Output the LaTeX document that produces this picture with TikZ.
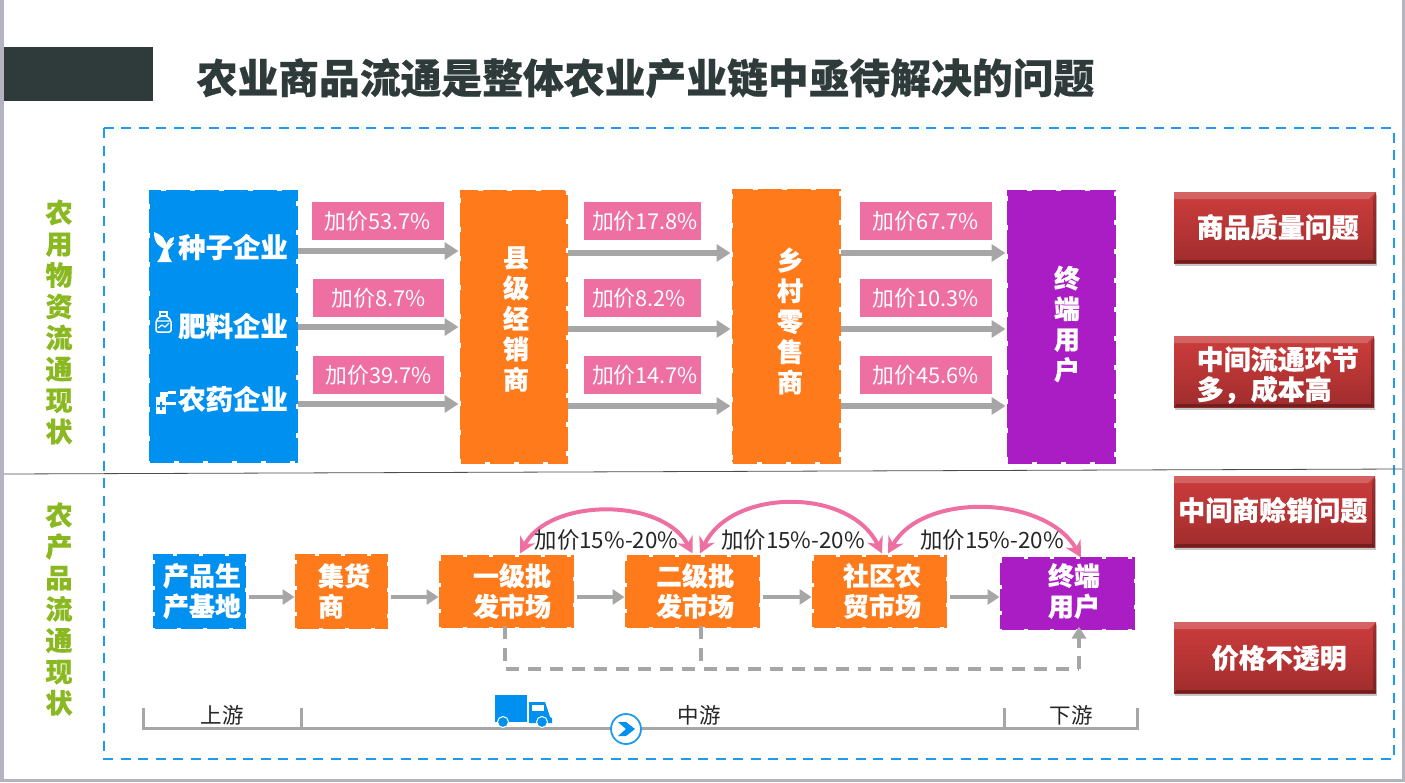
\documentclass[tikz,border=0pt]{standalone}
\usepackage{fontspec}
\setmainfont{Noto Sans CJK SC}
\usepackage{xcolor}
\usetikzlibrary{arrows.meta}
\usetikzlibrary{shadows}
\newcommand{\heavyface}{\bfseries\addfontfeature{FakeBold=.5}}
\definecolor{headdark}{HTML}{2F3B3A}
\definecolor{frameblue}{HTML}{1E9BF0}
\definecolor{boxblue}{HTML}{0090F0}
\definecolor{boxorange}{HTML}{FF7A1A}
\definecolor{boxpurple}{HTML}{AA1CC4}
\definecolor{tagpink}{HTML}{EE6FA2}
\definecolor{flowgray}{HTML}{A6A6A6}
\definecolor{sidegreen}{HTML}{8AB820}
\definecolor{edgegray}{HTML}{B4B4C0}
\definecolor{redtop}{HTML}{CC3C3C}
\definecolor{redmid}{HTML}{B83535}
\definecolor{redlow}{HTML}{A02C2C}
\tikzset{
  chainbox/.style={draw=#1, fill=#1, line width=3pt, dash pattern=on 24pt off 5pt,
    inner sep=0pt, outer sep=0pt},
  boxtext/.style={text=white, font=\heavyface\fontsize{26}{30.5}\selectfont, align=center,
    inner sep=0pt},
  boxtextl/.style={boxtext, align=left},
  sidetext/.style={text=sidegreen, font=\heavyface\fontsize{27}{31.3}\selectfont, align=center,
    inner sep=0pt},
  pricetag/.style={fill=tagpink, text=white, font=\fontsize{21.8}{24}\selectfont,
    minimum height=38pt, inner sep=0pt, outer sep=0pt},
  flow/.style={draw=flowgray, line width=5.5pt, -{Triangle[length=14pt,width=17pt]}},
  flowthin/.style={draw=flowgray, line width=4pt, -{Triangle[length=12pt,width=15pt]}},
  skipline/.style={draw=flowgray, line width=3.5pt, dash pattern=on 13pt off 9pt},
  markup/.style={draw=tagpink, line width=4pt, {Stealth[length=16pt,width=17pt]}-{Stealth[length=16pt,width=17pt]}},
  marktext/.style={text=black!85, font=\fontsize{22.4}{24}\selectfont, inner sep=0pt},
  redbox/.style={top color=redtop, bottom color=redlow, middle color=redmid,
    minimum height=71pt, inner sep=0pt, outer sep=0pt,
    drop shadow={shadow xshift=1pt, shadow yshift=-3pt, fill=black!50, opacity=.45},
    path picture={
      \fill[white, opacity=.2] (path picture bounding box.north west) -- (path picture bounding box.north east)
        -- ++(-7pt,-7pt) -| cycle;
      \fill[black, opacity=.3] (path picture bounding box.south east) -- (path picture bounding box.south west)
        -- ++(3pt,3pt) -- ([shift={(-3pt,3pt)}]path picture bounding box.south east) -- cycle;
      \fill[black, opacity=.22] (path picture bounding box.south east) -- (path picture bounding box.north east)
        -- ++(-3pt,-7pt) -- ([shift={(-3pt,3pt)}]path picture bounding box.south east) -- cycle;
    }},
  redtext/.style={text=white, font=\heavyface\fontsize{27}{30}\selectfont, align=left, inner sep=0pt},
  stagetext/.style={text=black!85, font=\fontsize{21.5}{24}\selectfont, inner sep=0pt},
  stageline/.style={draw=flowgray, line width=3pt}
}
\begin{document}
\begin{tikzpicture}[x=1pt,y=-1pt]
  \useasboundingbox (0,0) rectangle (1405,782);
  \fill[edgegray] (0,0) rectangle (4,782);
  \fill[edgegray] (1402,0) rectangle (1405,782);
  \fill[edgegray] (0,779) rectangle (1405,782);

  % header
  \fill[headdark] (4,47) rectangle (153,101);
  \node[anchor=west, inner sep=0pt, text=headdark, font=\heavyface\fontsize{40.8}{44}\selectfont] (title) at (196.5,78)
    {农业商品流通是整体农业产业链中亟待解决的问题};
  \draw[frameblue, line width=2.6pt, dash pattern=on 10pt off 7.5pt] (104,128) rectangle (1394,759);
  \draw[black!70, line width=.8pt] (4,474) -- (1402,469);

  % side captions
  \node[sidetext] (sidea) at (59,322) {农\\用\\物\\资\\流\\通\\现\\状};
  \node[sidetext] (sideb) at (59,609) {农\\产\\品\\流\\通\\现\\状};

  % upper chain
  \node[chainbox=boxblue, minimum width=146pt, minimum height=270pt] (supply) at (223,326) {};
  \node[chainbox=boxorange, minimum width=105pt, minimum height=271pt] (county) at (513.5,326.5) {};
  \node[chainbox=boxorange, minimum width=106pt, minimum height=272pt] (village) at (786,326) {};
  \node[chainbox=boxpurple, minimum width=106pt, minimum height=271pt] (user) at (1061,326.5) {};

  \node[boxtext, anchor=east, font=\heavyface\fontsize{27.4}{30}\selectfont] (seed) at (288,247) {种子企业};
  \node[boxtext, anchor=east, font=\heavyface\fontsize{27.4}{30}\selectfont] (fert) at (288,326) {肥料企业};
  \node[boxtext, anchor=east, font=\heavyface\fontsize{27.4}{30}\selectfont] (pest) at (288,399) {农药企业};
  \node[boxtext] (countyt) at (516,319) {县\\级\\经\\销\\商};
  \node[boxtext] (villaget) at (790,321) {乡\\村\\零\\售\\商};
  \node[boxtext] (usert) at (1067,324) {终\\端\\用\\户};

  % icons
  \begin{scope}[white]
    \fill (157,262) -- (172,262) -- (169,257) -- (168,250) -- (174,243) -- (165,245) -- (160,258) -- cycle;
    \fill (154,232) .. controls (154,243) and (159,248) .. (167,249) .. controls (167,240) and (162,235) .. (154,232) -- cycle;
    \fill (174,237) .. controls (168,238) and (167,243) .. (166,245) .. controls (171,245) and (174,242) .. (174,237) -- cycle;
    \draw[line width=1.5pt] (160,316) rectangle (167,312);
    \draw[line width=1.5pt, rounded corners=2pt] (161,316) -- (156,320) -- (156,332) -- (171,332) -- (171,320) -- (166,316);
    \draw[line width=1.2pt] (156,321) -- (171,321) (158,328) -- (162,325) -- (165,327) -- (169,323);
    \fill (156,397) rectangle (166,414);
    \fill (160,392) rectangle (168,397);
    \fill (168,391) rectangle (176,394);
    \fill (166,402) rectangle (176,405);
    \fill[boxblue] (160,402) rectangle (162,410) (157,405) rectangle (165,407);
  \end{scope}

  % price tags
  \foreach \tagname/\tagx/\tagy/\tagw/\tagtext in {
      ta/378/221/132/加价53.7\%, tb/378.5/298/131/加价8.7\%, tc/378.5/375/131/加价39.7\%,
      tg/926/221/132/加价67.7\%, th/926/298/132/加价10.3\%, ti/926/375/132/加价45.6\%}{
    \node[pricetag, minimum width=\tagw pt] (\tagname) at (\tagx,\tagy) {\tagtext};
  }
  \foreach \tagname/\tagy/\tagtext in {td/221/加价17.8\%, te/298/加价8.2\%, tf/375/加价14.7\%}{
    \node[pricetag, text width=117pt, align=left] (\tagname) at (642.5,\tagy) {\hspace*{8pt}\tagtext};
  }

  \coordinate (rowa) at (0,251);
  \coordinate (rowb) at (0,327);
  \coordinate (rowc) at (0,404);
  \coordinate (rowd) at (0,253);
  \coordinate (rowe) at (0,329);
  \coordinate (rowf) at (0,406);
  \foreach \rowl/\rowr in {rowa/rowd,rowb/rowe,rowc/rowf}{
    \path[flow] ([xshift=2pt]supply.east |- \rowl) -- ([xshift=-2.5pt]county.west |- \rowl);
    \path[flow] ([xshift=2pt]county.east |- \rowr) -- ([xshift=-2.5pt]village.west |- \rowr);
    \path[flow] ([xshift=2pt]village.east |- \rowr) -- ([xshift=-2.5pt]user.west |- \rowr);
  }

  % lower chain
  \node[chainbox=boxblue, minimum width=90pt, minimum height=72pt, dash pattern=on 22pt off 4pt] (base) at (199.5,591.5) {};
  \node[chainbox=boxorange, minimum width=90pt, minimum height=72pt, dash pattern=on 22pt off 4pt] (collect) at (341.5,591.5) {};
  \node[chainbox=boxorange, minimum width=132pt, minimum height=70pt, dash pattern=on 22pt off 4pt] (marketa) at (506.5,591.5) {};
  \node[chainbox=boxorange, minimum width=132pt, minimum height=70pt, dash pattern=on 22pt off 4pt] (marketb) at (692.5,591.5) {};
  \node[chainbox=boxorange, minimum width=132pt, minimum height=70pt, dash pattern=on 22pt off 4pt] (marketc) at (879.5,591.5) {};
  \node[chainbox=boxpurple, minimum width=132pt, minimum height=70pt, dash pattern=on 22pt off 4pt] (buyer) at (1067.5,593.5) {};

  \node[boxtext] (baset) at (202,591) {产品生\\产基地};
  \node[boxtextl] (collectt) at (344,591) {集货\\商};
  \node[boxtext] (marketat) at (512,591) {一级批\\发市场};
  \node[boxtext] (marketbt) at (695,591) {二级批\\发市场};
  \node[boxtext] (marketct) at (882,591) {社区农\\贸市场};
  \node[boxtext] (buyert) at (1074,591) {终端\\用户};

  \coordinate (rowg) at (0,597);
  \foreach \boxl/\boxr in {base/collect,collect/marketa,marketa/marketb,marketb/marketc,marketc/buyer}{
    \path[flowthin] ([xshift=4pt]\boxl.east |- rowg) -- ([xshift=-2pt]\boxr.west |- rowg);
  }

  % markup arcs
  \draw[markup] ([xshift=13.5pt,yshift=3pt]marketa.north) .. controls +(30,-56) and +(-30,-56) .. ([yshift=3pt]marketb.north);
  \draw[markup] ([xshift=7.5pt,yshift=3pt]marketb.north) .. controls +(32,-66) and +(-32,-66) .. ([xshift=2.5pt,yshift=3pt]marketc.north);
  \draw[markup] ([xshift=8.5pt,yshift=3pt]marketc.north) .. controls +(35,-62) and +(-35,-62) .. ([xshift=13.5pt,yshift=1pt]buyer.north);
  \node[marktext] (marka) at (606.5,540) {加价15\%-20\%};
  \node[marktext] (markb) at (793,540) {加价15\%-20\%};
  \node[marktext] (markc) at (992,540) {加价15\%-20\%};

  % skip lines
  \coordinate (skipa) at (505,669);
  \coordinate (skipb) at (701,669);
  \coordinate (skipc) at (1079,669);
  \draw[skipline] ([yshift=1pt]marketa.south -| skipa) -- (skipa) -- (skipc);
  \draw[skipline] ([yshift=1pt]marketb.south -| skipb) -- (skipb);
  \draw[skipline] (skipc) -- (1079,652);
  \draw[flowgray, line width=3.5pt, -{Triangle[length=12pt,width=14pt]}] (1079,648) -- ([yshift=2pt]buyer.south -| skipc);

  % stages
  \coordinate (stagea) at (143,708);
  \coordinate (stageb) at (143,728);
  \coordinate (stagec) at (1137,728);
  \coordinate (staged) at (1137,708);
  \draw[stageline] (stagea) -- (stageb) -- (stagec) -- (staged);
  \draw[stageline] (301,708) -- (301,728);
  \draw[stageline] (1004,708) -- (1004,728);
  \node[stagetext] (up) at (222,715) {上游};
  \node[stagetext] (mid) at (699,715) {中游};
  \node[stagetext] (down) at (1071,715) {下游};

  % truck
  \begin{scope}[boxblue]
    \fill (495,695) rectangle (527,722);
    \fill (529,702) -- (545,702) -- (550,717) -- (552,718) -- (552,723) -- (529,723) -- cycle;
    \fill[white] (532,705) rectangle (544,711);
    \draw[white, line width=1pt, fill=boxblue] (503,722) circle (5.5pt);
    \draw[white, line width=1pt, fill=boxblue] (542,722) circle (5.5pt);
  \end{scope}
  \node[circle, draw=frameblue, fill=white, line width=1.8pt, minimum size=30pt, inner sep=0pt] (nextmark) at (626,729) {};
  \fill[boxblue] (618,722) -- (626,722) -- (635,729) -- (626,736) -- (618,736) -- (626,729) -- cycle;

  % problem boxes
  \node[redbox, minimum width=202pt] (qa) at (1275,227.5) {};
  \node[redbox, minimum width=200pt] (qb) at (1274,371.5) {};
  \node[redbox, minimum width=201pt] (qc) at (1274.5,511.5) {};
  \node[redbox, minimum width=202pt] (qd) at (1275,657.5) {};
  \node[redtext, anchor=west] (qat) at (1196.5,227) {商品质量问题};
  \node[redtext, anchor=west] (qbt) at (1196.5,375) {中间流通环节\\多，成本高};
  \node[redtext, anchor=west] (qct) at (1178,510) {中间商赊销问题};
  \node[redtext, anchor=west] (qdt) at (1211.5,658) {价格不透明};
\end{tikzpicture}
\end{document}
